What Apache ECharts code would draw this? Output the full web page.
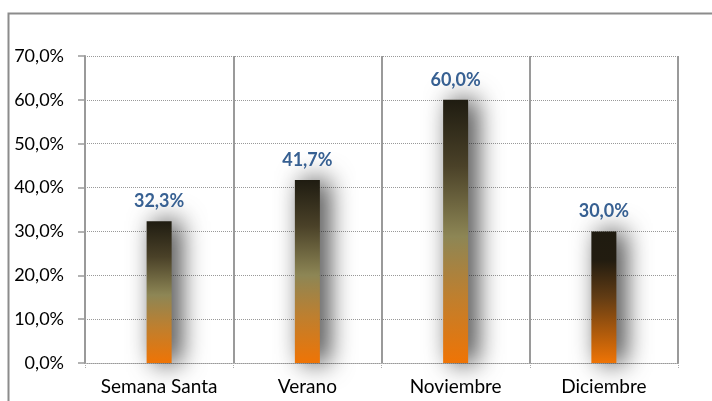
<!DOCTYPE html>
<html>
<head>
<meta charset="utf-8">
<script src="https://cdn.jsdelivr.net/npm/echarts@6/dist/echarts.min.js"></script>
<style>
  html, body { margin: 0; padding: 0; background: #fff; }
  #chart { width: 712px; height: 401px; }
</style>
</head>
<body>
<div id="chart"></div>
<script>
var categories = ["Semana Santa", "Verano", "Noviembre", "Diciembre"];
var values = [32.3, 41.7, 60.0, 30.0];
var yTicks = [0, 10, 20, 30, 40, 50, 60, 70];

function pct(v) {
    return v.toFixed(1).replace(".", ",") + "%";
}

// olive gradient for the first three bars, brown one for the last
function barColor(i) {
    if (i === 3) {
        return new echarts.graphic.LinearGradient(0, 0, 0, 1, [
            { offset: 0, color: "#1f1b10" },
            { offset: 0.22, color: "#221c10" },
            { offset: 0.5, color: "#623c14" },
            { offset: 1, color: "#ef7405" }
        ]);
    }
    return new echarts.graphic.LinearGradient(0, 0, 0, 1, [
        { offset: 0, color: "#1f1c11" },
        { offset: 0.25, color: "#4a4128" },
        { offset: 0.52, color: "#8d8655" },
        { offset: 0.75, color: "#bf7f2e" },
        { offset: 1, color: "#ef7405" }
    ]);
}

var barData = values.map(function (v, i) {
    return {
        value: v,
        itemStyle: {
            color: barColor(i),
            shadowColor: "rgba(0,0,0,0.8)",
            shadowBlur: 26,
            shadowOffsetX: 8,
            shadowOffsetY: 0
        }
    };
});

var chart = echarts.init(document.getElementById("chart"));
chart.setOption({
    animation: false,
    textStyle: { fontFamily: "Lato" },
    graphic: [
        {
            type: "rect",
            shape: { x: 8.5, y: 13.5, width: 720, height: 400 },
            style: { fill: "none", stroke: "#8c8c8c", lineWidth: 2 },
            silent: true
        }
    ],
    grid: { left: 85, right: 34, top: 56, bottom: 38 },
    xAxis: {
        type: "category",
        data: categories,
        axisLine: { show: true, lineStyle: { color: "#999", type: "dotted", width: 1 } },
        axisTick: { show: true, interval: 0, length: 5, lineStyle: { color: "#aaa", type: "dotted" } },
        axisLabel: { interval: 0, color: "#000", fontSize: 19, margin: 14, fontFamily: "Lato" },
        splitLine: { show: true, interval: 0, lineStyle: { color: "#9a9a9a", width: 2 } }
    },
    yAxis: {
        type: "value",
        min: yTicks[0],
        max: yTicks[yTicks.length - 1],
        interval: 10,
        axisLine: { show: true, lineStyle: { color: "#9a9a9a", width: 2 } },
        axisTick: { show: true, length: 7, lineStyle: { color: "#9a9a9a", width: 1.5 } },
        axisLabel: {
            color: "#000",
            fontSize: 18,
            margin: 21,
            fontFamily: "Lato",
            formatter: function (v) { return pct(v); }
        },
        splitLine: { show: true, lineStyle: { color: "#999", type: "dotted", width: 1 } }
    },
    series: [
        {
            type: "bar",
            data: barData,
            barWidth: 25,
            label: {
                show: true,
                position: "top",
                distance: 11,
                color: "#376092",
                fontWeight: "bold",
                fontSize: 18,
                fontFamily: "Lato",
                formatter: function (p) { return pct(p.value); }
            }
        }
    ]
});
</script>
</body>
</html>
